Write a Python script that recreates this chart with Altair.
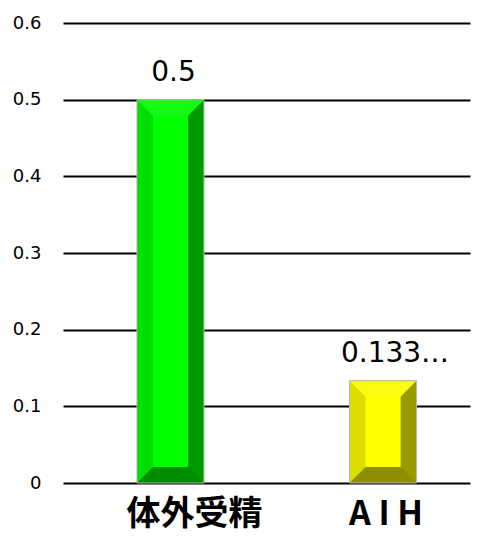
import altair as alt
import pandas as pd

categories = ["体外受精", "AIH"]
values = [0.5, 0.1333]
value_labels = ["0.5", "0.133…"]
axis_labels = ["体外受精", "A I H"]
y_ticks = [0, 0.1, 0.2, 0.3, 0.4, 0.5, 0.6]

face_left = ["#00dd00", "#dddd00"]
face_right = ["#009900", "#999900"]
face_center = ["#00ff00", "#ffff00"]
face_top = ["#14fa14", "#fbfb14"]
face_bottom = ["#008e00", "#8e8e00"]

df = pd.DataFrame({
    "cat": categories,
    "value": values,
    "vlabel": value_labels,
    "xlabel": axis_labels,
    "left": face_left,
    "right": face_right,
    "center": face_center,
    "top": face_top,
    "bottom": face_bottom,
})

BAR_W = 67
BEV = 16

xenc = alt.X("cat:N", sort=categories,
             scale=alt.Scale(type="band", paddingInner=0.5, paddingOuter=0.2076, align=0.616),
             axis=None)
yscale = alt.Scale(domain=[0, 0.6], nice=False, zero=True)
yaxis = alt.Axis(values=y_ticks, grid=True, gridColor="black", gridWidth=1.8,
                 domain=False, ticks=False, labelPadding=22, title=None,
                 labelFont="DejaVu Sans", labelFontSize=18, labelColor="black",
                 labelExpr="datum.value == 0 ? '0' : format(datum.value, '.1f')")
yenc = alt.Y("value:Q", scale=yscale, axis=yaxis, title=None)
y0 = alt.YDatum(0, scale=yscale, axis=yaxis, title=None)

base = alt.Chart(df)

bar_left = base.mark_bar(width=BAR_W).encode(
    x=xenc, y=yenc, color=alt.Color("left:N", scale=None),
)
bar_right = base.mark_bar(width=BEV, xOffset=BAR_W / 2 - BEV / 2).encode(
    x=xenc, y=yenc, color=alt.Color("right:N", scale=None),
)
bar_center = base.mark_bar(width=BAR_W - 2 * BEV).encode(
    x=xenc, y=yenc, color=alt.Color("center:N", scale=None),
)

h = BEV / BAR_W
inner = (BAR_W / 2 - BEV) / (BAR_W / 2)
top_path = f"M-1,{-h:.4f}L1,{-h:.4f}L{inner:.4f},{h:.4f}L{-inner:.4f},{h:.4f}Z"
bot_path = f"M{-inner:.4f},{-h:.4f}L{inner:.4f},{-h:.4f}L1,{h:.4f}L-1,{h:.4f}Z"

top_face = base.mark_point(shape=top_path, size=BAR_W * BAR_W, filled=True, opacity=1,
                           strokeWidth=0, yOffset=BEV / 2).encode(
    x=xenc, y=yenc, color=alt.Color("top:N", scale=None),
)
bot_face = base.mark_point(shape=bot_path, size=BAR_W * BAR_W, filled=True, opacity=1,
                           strokeWidth=0, yOffset=-BEV / 2).encode(
    x=xenc, y=y0, color=alt.Color("bottom:N", scale=None),
)
outline = base.mark_bar(width=BAR_W, fillOpacity=0, stroke="#b4b4b4", strokeWidth=1).encode(
    x=xenc, y=yenc,
)

def vlabel(cat, dx):
    return base.transform_filter(alt.datum.cat == cat).mark_text(
        font="DejaVu Sans", fontSize=28, color="black", baseline="alphabetic", dx=dx, dy=-19
    ).encode(x=xenc, y=yenc, text="vlabel:N")

def xlabel(cat, dx):
    return base.transform_filter(alt.datum.cat == cat).mark_text(
        font="Noto Sans CJK JP", fontWeight="bold", fontSize=34, color="black",
        baseline="middle", dx=dx, dy=32
    ).encode(x=xenc, y=y0, text="xlabel:N")

chart = alt.layer(
    bar_left, bar_right, bar_center, top_face, bot_face, outline,
    vlabel("体外受精", 3), vlabel("AIH", 12),
    xlabel("体外受精", 24), xlabel("AIH", 3),
).properties(
    width=407, height=460,
    autosize=alt.AutoSizeParams(type="none"),
    padding={"left": 55, "top": 15, "right": 2, "bottom": 54},
).configure_view(stroke=None).configure_axisY(labelFontSize=18, labelFont="DejaVu Sans")

chart.save("out.html", embed_options={"renderer": "svg", "actions": False})
